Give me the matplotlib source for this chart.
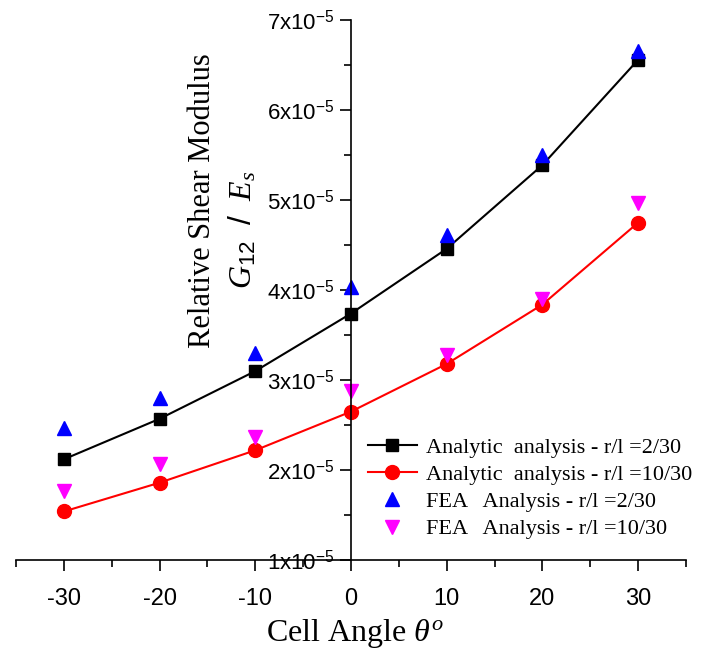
import matplotlib
matplotlib.use("Agg")
import matplotlib.pyplot as plt
from matplotlib.ticker import MultipleLocator, FuncFormatter

plt.rcParams['font.family'] = ['Liberation Sans', 'DejaVu Sans']
plt.rcParams['mathtext.fontset'] = 'custom'
plt.rcParams['mathtext.rm'] = 'Liberation Sans'
plt.rcParams['mathtext.it'] = 'Liberation Serif:italic'
plt.rcParams['axes.unicode_minus'] = False

# cell angle (deg) and relative shear modulus (x1e-5)
angle = [-30, -20, -10, 0, 10, 20, 30]
analytic_2 = [2.12, 2.57, 3.10, 3.74, 4.46, 5.39, 6.56]
analytic_10 = [1.54, 1.86, 2.22, 2.65, 3.18, 3.84, 4.75]
fea_2 = [2.47, 2.80, 3.30, 4.04, 4.61, 5.50, 6.66]
fea_10 = [1.77, 2.07, 2.37, 2.88, 3.28, 3.90, 4.97]

labels = ['Analytic  analysis - r/l =2/30',
          'Analytic  analysis - r/l =10/30',
          'FEA   Analysis - r/l =2/30',
          'FEA   Analysis - r/l =10/30']

fig = plt.figure(figsize=(7.05, 6.52), dpi=100)
ax = fig.add_axes([0.0227, 0.141, 0.9503, 0.828])

ax.plot(angle, analytic_2, color='black', lw=1.5, marker='s', ms=9, label=labels[0])
ax.plot(angle, analytic_10, color='red', lw=1.5, marker='o', ms=10, label=labels[1])
ax.plot(angle, fea_2, ls='none', color='blue', marker='^', ms=10, label=labels[2])
ax.plot(angle, fea_10, ls='none', color='magenta', marker='v', ms=10, label=labels[3])

ax.set_xlim(-35, 35)
ax.set_ylim(1, 7)

ax.spines['left'].set_position(('data', 0))
ax.spines['top'].set_visible(False)
ax.spines['right'].set_visible(False)
for s in ['left', 'bottom']:
    ax.spines[s].set_linewidth(1.2)

ax.xaxis.set_major_locator(MultipleLocator(10))
ax.xaxis.set_minor_locator(MultipleLocator(5))
ax.yaxis.set_major_locator(MultipleLocator(1))
ax.yaxis.set_minor_locator(MultipleLocator(0.5))
ax.yaxis.set_major_formatter(FuncFormatter(lambda v, p: r'%dx10$^{\mathregular{-5}}$' % round(v)))

ax.tick_params(which='major', direction='out', length=8, width=1.2)
ax.tick_params(which='minor', direction='out', length=5, width=1.2)
ax.tick_params(axis='x', labelsize=17, pad=12)
ax.tick_params(axis='y', labelsize=16, pad=4)

fig.text(0.287, 0.693, 'Relative Shear Modulus', rotation=90, ha='center', va='center',
         fontsize=22, family='Liberation Serif')
fig.text(0.345, 0.647, r'$\mathit{G}_{\mathit{12}}\ \ /\ \ \mathit{E}_{\mathit{s}}$', rotation=90,
         ha='center', va='center', fontsize=23, family='Liberation Serif')
fig.text(0.503, 0.029, r'Cell Angle $\mathit{\theta^{o}}$', ha='center', va='center',
         fontsize=23, family='Liberation Serif')

ax.legend(loc='lower right', bbox_to_anchor=(1.022, 0.022), frameon=False,
          prop={'family': 'Liberation Serif', 'size': 16}, handlelength=2.2,
          handletextpad=0.4, labelspacing=0.3, borderaxespad=0)

fig.savefig('out.png', dpi=100)
